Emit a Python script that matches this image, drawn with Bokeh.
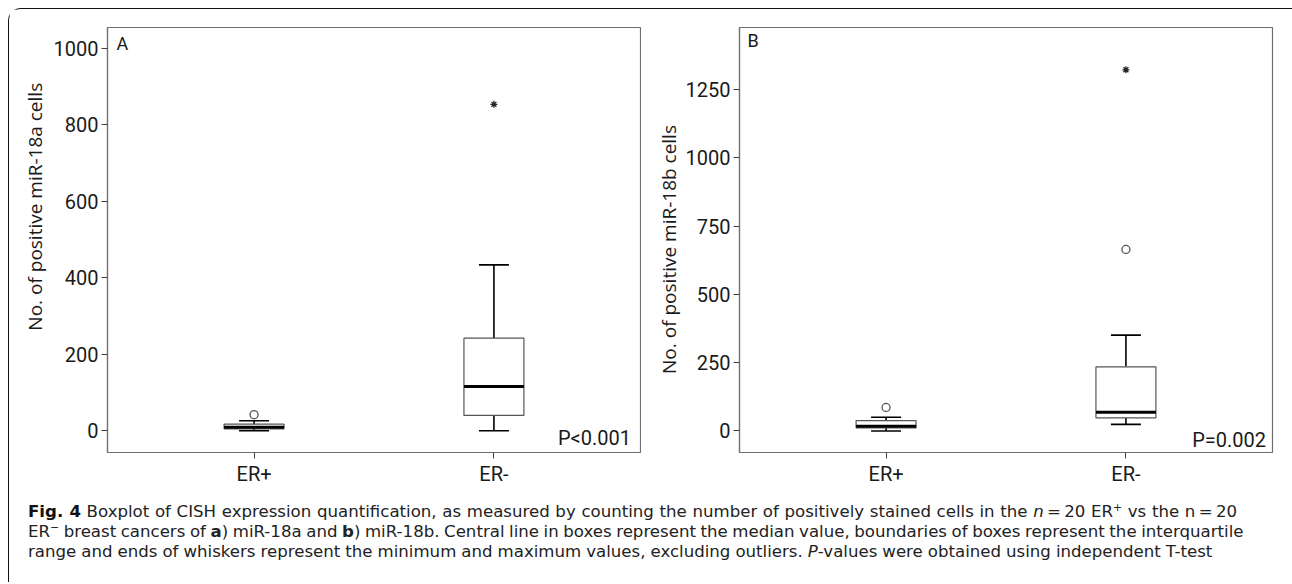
import math
from bokeh.plotting import figure
from bokeh.models import Range1d, FixedTicker, Label, Div
from bokeh.layouts import row, column
from bokeh.embed import file_html
from bokeh.resources import INLINE

# ---------------- data ----------------
categories = ["ER+", "ER-"]
xpos = [1, 2]

a_q1 = [5, 40]
a_median = [9, 116]
a_q3 = [17, 242]
a_low = [0, 0]
a_high = [26, 434]
a_circle_cat = ["ER+"]
a_circle_val = [42]
a_star_cat = ["ER-"]
a_star_val = [854]
a_ticks = [0, 200, 400, 600, 800, 1000]
a_ylabel = "No. of positive miR-18a cells"
a_letter = "A"
a_pval = "P<0.001"

b_q1 = [11, 48]
b_median = [17, 68]
b_q3 = [38, 235]
b_low = [0, 24]
b_high = [50, 351]
b_circle_cat = ["ER+", "ER-"]
b_circle_val = [86, 665]
b_star_cat = ["ER-"]
b_star_val = [1323]
b_ticks = [0, 250, 500, 750, 1000, 1250]
b_ylabel = "No. of positive miR-18b cells"
b_letter = "B"
b_pval = "P=0.002"

TICK_FONT = "Roboto"
TITLE_FONT = "Open Sans"
FRAME_COLOR = "#6e6e6e"
EM = "\u2003"
EN = "\u2002"


def panel(q1, med, q3, low, high, ccat, cval, scat, sval, ticks, yr, ylabel,
          letter, pval, width, mbl, mbr, mbt, fh, title_text, title_standoff,
          letter_pos, p_pos):
    mbb = 40
    p = figure(width=width, height=mbt + fh + mbb,
               x_range=Range1d(0.3889, 2.6111), y_range=Range1d(*yr),
               output_backend="svg", toolbar_location=None,
               min_border_left=mbl, min_border_right=mbr,
               min_border_top=mbt, min_border_bottom=mbb)
    p.xgrid.visible = False
    p.ygrid.visible = False
    p.outline_line_color = FRAME_COLOR
    p.outline_line_width = 1.2
    p.background_fill_color = "white"
    p.border_fill_color = "white"

    p.xaxis.ticker = FixedTicker(ticks=xpos)
    p.xaxis.major_label_overrides = {x: c for x, c in zip(xpos, categories)}
    p.yaxis.ticker = FixedTicker(ticks=ticks)
    for ax in (p.xaxis, p.yaxis):
        ax.axis_line_color = FRAME_COLOR
        ax.axis_line_width = 1.2
        ax.major_tick_in = 0
        ax.major_tick_out = 6
        ax.major_tick_line_color = "#444444"
        ax.major_tick_line_width = 1
        ax.minor_tick_line_color = None
        ax.major_label_text_font = TICK_FONT
        ax.major_label_text_font_size = "20px"
        ax.major_label_text_color = "#1a1a1a"
        ax.major_label_standoff = 3
    p.yaxis.axis_label = title_text
    p.yaxis.axis_label_text_font = TITLE_FONT
    p.yaxis.axis_label_text_font_size = "19px"
    p.yaxis.axis_label_text_font_style = "normal"
    p.yaxis.axis_label_text_color = "#1a1a1a"
    p.yaxis.axis_label_standoff = title_standoff

    half = 0.125
    cap = 0.0625
    # whisker stems
    p.segment(x0=xpos, y0=q3, x1=xpos, y1=high, line_color="black", line_width=1.6)
    p.segment(x0=xpos, y0=low, x1=xpos, y1=q1, line_color="black", line_width=1.6)
    # caps
    p.segment(x0=[x - cap for x in xpos], y0=high, x1=[x + cap for x in xpos], y1=high,
              line_color="black", line_width=1.6)
    p.segment(x0=[x - cap for x in xpos], y0=low, x1=[x + cap for x in xpos], y1=low,
              line_color="black", line_width=1.6)
    # boxes
    p.vbar(x=xpos, width=2 * half, bottom=q1, top=q3, fill_color="white",
           line_color="#555555", line_width=1.2)
    # median
    p.segment(x0=[x - half for x in xpos], y0=med, x1=[x + half for x in xpos], y1=med,
              line_color="black", line_width=3)
    # outliers
    cx = [xpos[categories.index(c)] for c in ccat]
    p.scatter(x=cx, y=cval, marker="circle", size=8, fill_color="white",
              line_color="#555555", line_width=1.3)
    sx = [xpos[categories.index(c)] for c in scat]
    p.scatter(x=sx, y=sval, marker="asterisk", size=7, line_color="#222222", line_width=1.3)

    p.add_layout(Label(x=letter_pos[0], y=letter_pos[1], x_units="screen", y_units="screen",
                       text=letter, text_align="left", text_baseline="alphabetic",
                       text_font=TICK_FONT, text_font_size="18px", text_color="#1a1a1a"))
    p.add_layout(Label(x=p_pos[0], y=p_pos[1], x_units="screen", y_units="screen",
                       text=pval, text_align="right", text_baseline="alphabetic",
                       text_font=TICK_FONT, text_font_size="20px", text_color="#1a1a1a"))
    return p


pa = panel(a_q1, a_median, a_q3, a_low, a_high, a_circle_cat, a_circle_val,
           a_star_cat, a_star_val, a_ticks, (-57, 1055), a_ylabel, a_letter, a_pval,
           width=632, mbl=98, mbr=1, mbt=18, fh=425,
           title_text=EM * 3 + EN + a_ylabel, title_standoff=3,
           letter_pos=(9, 409), p_pos=(523.5, 15))
pb = panel(b_q1, b_median, b_q3, b_low, b_high, b_circle_cat, b_circle_val,
           b_star_cat, b_star_val, b_ticks, (-79, 1478), b_ylabel, b_letter, b_pval,
           width=642, mbl=98, mbr=11, mbt=16, fh=427,
           title_text=b_ylabel + EM, title_standoff=1,
           letter_pos=(8, 412), p_pos=(526.5, 13))

SUP = "<sup style='font-size:0.65em; line-height:0; vertical-align:0.55em'>"
LINE = "<div style='height:20px; line-height:20px; word-spacing:{ws}px'>"
caption = (
    "<div style=\"font-family:'DejaVu Sans'; font-size:16.6px; line-height:20px; "
    "white-space:nowrap; padding:4.6px 0 0 14px; color:#222;\">"
    + LINE.format(ws=0.4)
    + "<b style='color:#111'>Fig. 4</b> Boxplot of CISH expression quantification, as measured by "
    "counting the number of positively stained cells in the <i>n</i>&#8201;=&#8201;20 "
    "ER" + SUP + "+</sup> vs the n&#8201;=&#8201;20</div>"
    + LINE.format(ws=-0.7)
    + "ER" + SUP + "&#8722;</sup> breast cancers of "
    "<b>a</b>) miR-18a and <b>b</b>) miR-18b. Central line in boxes represent the median "
    "value, boundaries of boxes represent the interquartile</div>"
    + LINE.format(ws=-0.25)
    + "range and ends of whiskers represent the minimum and maximum values, excluding "
    "outliers. <i>P</i>-values were obtained using independent T-test</div>"
    "</div>"
)
div = Div(text=caption, width=1274, height=80)

layout = column(row(pa, pb), div,
                styles={"margin": "8px 0 0 8px",
                        "border-top": "1.5px solid #111", "border-left": "1.5px solid #111",
                        "border-top-left-radius": "13px", "background-color": "white"})

open("out.html", "w").write(file_html(layout, INLINE))
